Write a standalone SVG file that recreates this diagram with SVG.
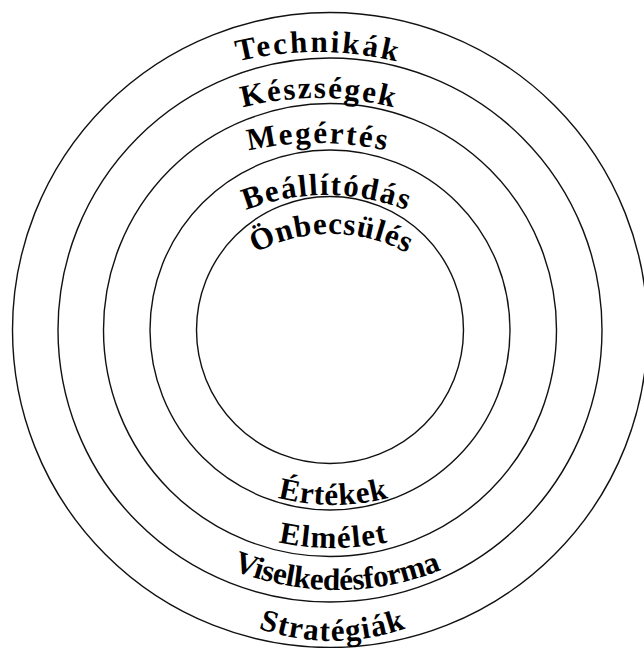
<svg xmlns="http://www.w3.org/2000/svg" xmlns:xlink="http://www.w3.org/1999/xlink" width="644" height="648" viewBox="0 0 644 648">
<style>
.ring{fill:none;stroke:#111;stroke-width:1.4}
.lbl{font-family:"Liberation Serif","Times New Roman",serif;font-weight:bold;font-size:31px;fill:#000}
</style>
<defs>
<path id="p-tech" d="M22.6,222 A340,340 0 0 1 611.4,222"/>
<path id="p-kesz" d="M58.2,248 A300,300 0 0 1 577.8,248"/>
<path id="p-meg" d="M39.9,303 A320,320 0 0 1 594.1,303"/>
<path id="p-beall" d="M135.5,305 A220,220 0 0 1 516.5,305"/>
<path id="p-onb" d="M192.4,314 A160,160 0 0 1 469.6,314"/>
<path id="p-ert" d="M142.5,395 A220,220 0 0 0 523.5,395"/>
<path id="p-elm" d="M107.8,418 A260,260 0 0 0 558.2,418"/>
<path id="p-vis" d="M94.5,450 A280,280 0 0 0 579.5,450"/>
<path id="p-strat" d="M141.5,531 A220,220 0 0 0 522.5,531"/>
</defs>
<rect width="644" height="648" fill="#fff"/>
<g id="rings">
<circle id="ring-1" class="ring" cx="330" cy="330" r="317.5"/>
<circle id="ring-2" class="ring" cx="330" cy="330" r="272"/>
<circle id="ring-3" class="ring" cx="330" cy="330" r="226.5"/>
<circle id="ring-4" class="ring" cx="330" cy="330" r="180"/>
<circle id="ring-5" class="ring" cx="330" cy="330" r="133.5"/>
</g>
<g id="label-technikak"><text class="lbl" text-anchor="middle"><textPath xlink:href="#p-tech" href="#p-tech" startOffset="50%" textLength="160" lengthAdjust="spacing">Technikák</textPath></text></g>
<g id="label-keszsegek"><text class="lbl" text-anchor="middle"><textPath xlink:href="#p-kesz" href="#p-kesz" startOffset="50%" textLength="152" lengthAdjust="spacing">Készségek</textPath></text></g>
<g id="label-megertes"><text class="lbl" text-anchor="middle"><textPath xlink:href="#p-meg" href="#p-meg" startOffset="50%" textLength="138" lengthAdjust="spacing">Megértés</textPath></text></g>
<g id="label-beallitodas"><text class="lbl" text-anchor="middle"><textPath xlink:href="#p-beall" href="#p-beall" startOffset="50%" textLength="164" lengthAdjust="spacing">Beállítódás</textPath></text></g>
<g id="label-onbecsules"><text class="lbl" text-anchor="middle"><textPath xlink:href="#p-onb" href="#p-onb" startOffset="50%" textLength="158" lengthAdjust="spacing">Önbecsülés</textPath></text></g>
<g id="label-ertekek"><text class="lbl" text-anchor="middle"><textPath xlink:href="#p-ert" href="#p-ert" startOffset="50%" textLength="112" lengthAdjust="spacing">Értékek</textPath></text></g>
<g id="label-elmelet"><text class="lbl" text-anchor="middle"><textPath xlink:href="#p-elm" href="#p-elm" startOffset="50%" textLength="110" lengthAdjust="spacing">Elmélet</textPath></text></g>
<g id="label-viselkedesforma"><text class="lbl" text-anchor="middle"><textPath xlink:href="#p-vis" href="#p-vis" startOffset="50%" textLength="214" lengthAdjust="spacing">Viselkedésforma</textPath></text></g>
<g id="label-strategiak"><text class="lbl" text-anchor="middle"><textPath xlink:href="#p-strat" href="#p-strat" startOffset="50%" textLength="150" lengthAdjust="spacing">Stratégiák</textPath></text></g>
<g id="connectors"/>
</svg>
